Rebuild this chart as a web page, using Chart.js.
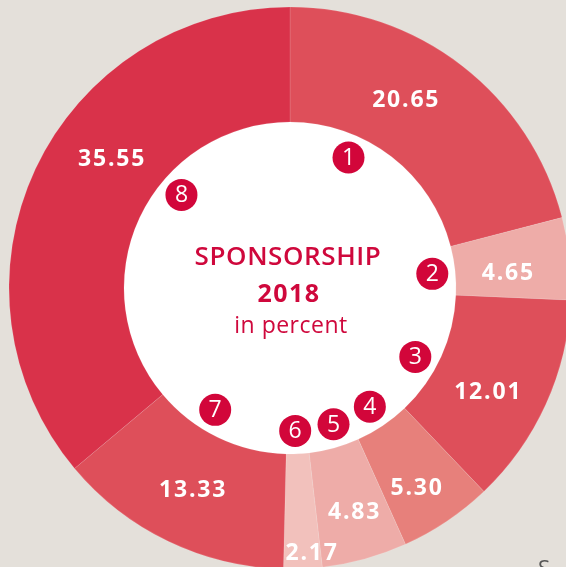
<!DOCTYPE html>
<html>
<head>
<meta charset="utf-8">
<script src="https://cdn.jsdelivr.net/npm/chart.js@4.4.0/dist/chart.umd.min.js"></script>
<style>
    html, body { margin: 0; padding: 0; }
    body { width: 566px; height: 567px; overflow: hidden; background: #e4e0da; position: relative; }
    #wrap { position: absolute; left: -10px; top: -12px; width: 600px; height: 600px; }
    .cut { position: absolute; font-family: 'Open Sans', sans-serif; font-size: 22px; color: #555; }
</style>
</head>
<body>
<div id="wrap"><canvas id="grafico" width="600" height="600"></canvas></div>
<div class="cut" style="left:538px; top:552px;">S</div>
<script>
// dados do gráfico
const categorias = ['1', '2', '3', '4', '5', '6', '7', '8'];
const percentuais = [20.65, 4.65, 12.01, 5.30, 4.83, 2.17, 13.33, 35.55];
const rotulos = ['20.65', '4.65', '12.01', '5.30', '4.83', '2.17', '13.33', '35.55'];
const titulo = ['SPONSORSHIP', '2018', 'in percent'];

const cores = ['#de4f5a', '#eeaca8', '#de4f5a', '#e7807b', '#eeaca8', '#f2c1bc', '#de4f5a', '#d9324a'];

// posição dentro de cada fatia (fração do ângulo, fração do anel)
const posRotulo = [[0.42, 0.48], [0.61, 0.46], [0.57, 0.50], [0.57, 0.61], [0.46, 0.58], [0.23, 0.86], [0.50, 0.50], [0.585, 0.47]];
const posMarcador = [0.32, 0.52, 0.60, 0.50, 0.37, 0.57, 0.62, 0.62];

const vermelho = '#d2063a';

const pluginAnel = {
    id: 'pluginAnel',
    beforeDatasetsDraw(chart) {
        const arco = chart.getDatasetMeta(0).data[0];
        const p = arco.getProps(['x', 'y', 'innerRadius']);
        const ctx = chart.ctx;
        ctx.save();
        ctx.fillStyle = '#ffffff';
        ctx.beginPath();
        ctx.arc(p.x, p.y, p.innerRadius + 1, 0, Math.PI * 2);
        ctx.fill();
        ctx.restore();
    },
    afterDatasetsDraw(chart) {
        const ctx = chart.ctx;
        const arcos = chart.getDatasetMeta(0).data;
        ctx.save();
        ctx.textAlign = 'center';
        ctx.textBaseline = 'middle';

        arcos.forEach(function (arco, i) {
            const p = arco.getProps(['x', 'y', 'startAngle', 'endAngle', 'innerRadius', 'outerRadius']);

            // valor em branco dentro da fatia
            let a = p.startAngle + posRotulo[i][0] * (p.endAngle - p.startAngle);
            let r = p.innerRadius + posRotulo[i][1] * (p.outerRadius - p.innerRadius);
            ctx.fillStyle = '#ffffff';
            ctx.font = 'bold 23px "Open Sans"';
            ctx.letterSpacing = '1.8px';
            ctx.fillText(rotulos[i], p.x + r * Math.cos(a), p.y + r * Math.sin(a) + 1);

            // marcador numerado no miolo branco
            a = p.startAngle + posMarcador[i] * (p.endAngle - p.startAngle);
            r = p.innerRadius - 23;
            const mx = p.x + r * Math.cos(a);
            const my = p.y + r * Math.sin(a);
            ctx.fillStyle = vermelho;
            ctx.beginPath();
            ctx.arc(mx, my, 16, 0, Math.PI * 2);
            ctx.fill();
            ctx.fillStyle = '#ffffff';
            ctx.font = '23px "Open Sans"';
            ctx.letterSpacing = '0px';
            ctx.fillText(categorias[i], mx, my + 1);
        });

        // texto central
        const cx = arcos[0].x, cy = arcos[0].y;
        ctx.fillStyle = '#cf083c';
        ctx.font = '600 26px "Open Sans"';
        ctx.letterSpacing = '0.6px';
        ctx.fillText(titulo[0], cx - 2, cy - 30);
        ctx.font = 'bold 25px "Open Sans"';
        ctx.letterSpacing = '1.5px';
        ctx.fillText(titulo[1], cx - 1, cy + 7);
        ctx.font = '23px "Open Sans"';
        ctx.letterSpacing = '0.5px';
        ctx.fillText(titulo[2], cx + 1, cy + 38);
        ctx.restore();
    }
};

new Chart(document.getElementById('grafico').getContext('2d'), {
    type: 'doughnut',
    data: {
        labels: categorias,
        datasets: [{
            data: percentuais,
            backgroundColor: cores,
            borderColor: 'rgba(255, 255, 255, 0.12)',
            borderWidth: 1
        }]
    },
    options: {
        responsive: false,
        animation: false,
        radius: 281,
        cutout: (166 / 281 * 100) + '%',
        layout: { padding: 0 },
        plugins: {
            legend: { display: false },
            tooltip: { enabled: false }
        }
    },
    plugins: [pluginAnel]
});
</script>
</body>
</html>
